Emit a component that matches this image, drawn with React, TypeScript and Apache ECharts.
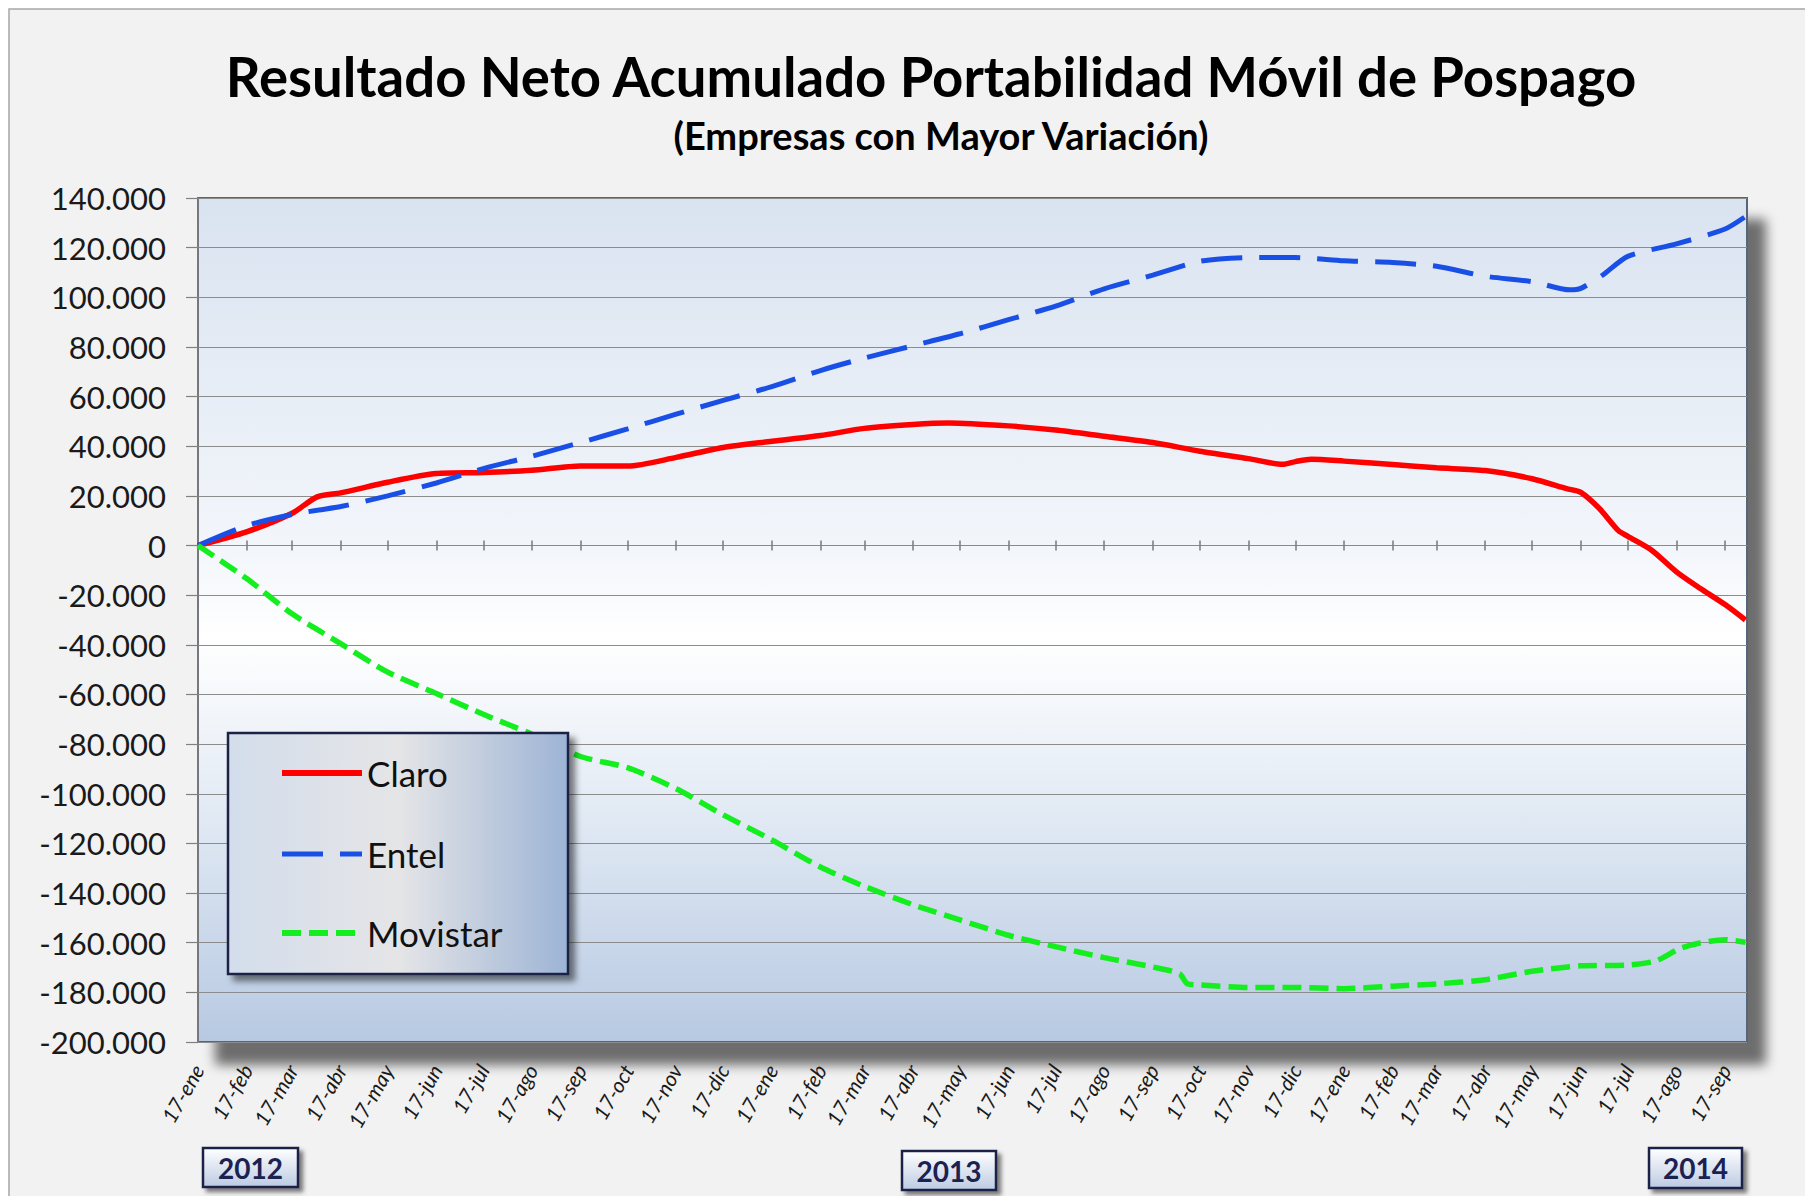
import React, { useEffect, useRef } from 'react';
import * as echarts from 'echarts';

const MESES = ['ene', 'feb', 'mar', 'abr', 'may', 'jun', 'jul', 'ago', 'sep', 'oct', 'nov', 'dic'];
const TICK_YEARS_MONTHS: [number, number][] = [];
for (let y = 2012; y <= 2014; y++) {
  for (let m = 0; m < 12; m++) {
    if (y === 2014 && m > 8) break;
    TICK_YEARS_MONTHS.push([y, m]);
  }
}
const YEAR_LABELS = ['2012', '2013', '2014'];
const X_MIN = '2012-01-17';
const X_MAX = '2014-10-01';

const claro: [string, number][] = [
  ['2012-01-17', 0], ['2012-02-17', 5500], ['2012-03-17', 13000], ['2012-04-02', 19600],
  ['2012-04-17', 21200], ['2012-05-17', 25500], ['2012-06-17', 29000], ['2012-07-17', 29400],
  ['2012-08-17', 30300], ['2012-09-17', 32000], ['2012-10-17', 32000], ['2012-11-17', 35500],
  ['2012-12-17', 39500], ['2013-01-17', 42000], ['2013-02-17', 44300], ['2013-03-17', 47200],
  ['2013-04-17', 48800], ['2013-05-10', 49400], ['2013-06-17', 48200], ['2013-07-17', 46500],
  ['2013-08-17', 44000], ['2013-09-17', 41500], ['2013-10-17', 38000], ['2013-11-17', 35000],
  ['2013-12-09', 32700], ['2013-12-17', 33800], ['2013-12-27', 34800], ['2014-01-17', 34000],
  ['2014-02-17', 32600], ['2014-03-17', 31300], ['2014-04-17', 30200], ['2014-05-17', 26900],
  ['2014-06-08', 22900], ['2014-06-17', 21400], ['2014-06-29', 14800], ['2014-07-11', 6000],
  ['2014-07-17', 3700], ['2014-08-01', -1800], ['2014-08-17', -10600], ['2014-09-01', -17200],
  ['2014-09-17', -23800], ['2014-09-30', -30000],
];

const entel: [string, number][] = [
  ['2012-01-17', 0], ['2012-02-17', 8000], ['2012-03-17', 12500], ['2012-04-03', 14300],
  ['2012-04-17', 15700], ['2012-05-17', 20000], ['2012-06-17', 25200], ['2012-07-17', 31000],
  ['2012-08-17', 36000], ['2012-09-17', 41500], ['2012-10-17', 47000], ['2012-11-17', 52900],
  ['2012-12-17', 58500], ['2013-01-17', 64000], ['2013-02-17', 70500], ['2013-03-17', 75500],
  ['2013-04-17', 80500], ['2013-05-17', 85300], ['2013-06-17', 91000], ['2013-07-17', 96400],
  ['2013-08-17', 103400], ['2013-09-17', 108900], ['2013-10-17', 114500], ['2013-11-17', 116000],
  ['2013-12-17', 116000], ['2014-01-17', 114700], ['2014-02-17', 114000], ['2014-03-17', 112500],
  ['2014-04-17', 108500], ['2014-05-17', 106300], ['2014-06-10', 103000], ['2014-06-17', 103600],
  ['2014-07-01', 109000], ['2014-07-17', 116500], ['2014-08-17', 121500], ['2014-09-17', 127500],
  ['2014-09-30', 132500],
];

const movistar: [string, number][] = [
  ['2012-01-17', 0], ['2012-02-17', -13300], ['2012-03-17', -27500], ['2012-04-17', -39500],
  ['2012-05-17', -51000], ['2012-06-17', -59600], ['2012-07-17', -68000], ['2012-08-17', -76000],
  ['2012-09-17', -85000], ['2012-10-17', -89500], ['2012-11-17', -98000], ['2012-12-17', -108500],
  ['2013-01-17', -118600], ['2013-02-17', -129500], ['2013-03-17', -137300], ['2013-04-17', -144700],
  ['2013-05-17', -150800], ['2013-06-17', -157000], ['2013-07-17', -161600], ['2013-08-17', -166000],
  ['2013-09-17', -169800], ['2013-10-04', -172500], ['2013-10-09', -176500], ['2013-10-17', -177000],
  ['2013-11-17', -178000], ['2013-12-17', -178000], ['2014-01-17', -178500], ['2014-02-17', -177500],
  ['2014-03-17', -176600], ['2014-04-17', -174900], ['2014-05-17', -171500], ['2014-06-17', -169300],
  ['2014-07-17', -169000], ['2014-08-04', -167300], ['2014-08-19', -162400], ['2014-09-01', -160100],
  ['2014-09-17', -158800], ['2014-09-30', -159800],
];

function ts(s: string): number {
  const [y, m, d] = s.split('-').map(Number);
  return Date.UTC(y, m - 1, d);
}

function fmtThousands(v: number): string {
  if (v === 0) return '0';
  const s = Math.abs(v).toString().replace(/\B(?=(\d{3})+(?!\d))/g, '.');
  return (v < 0 ? '-' : '') + s;
}

export default function App() {
  const ref = useRef<HTMLDivElement>(null);

  useEffect(() => {
    if (!ref.current) return;
    const chart = echarts.init(ref.current, null, { renderer: 'svg' });
    const tickTs = TICK_YEARS_MONTHS.map(([y, m]) => Date.UTC(y, m, 17));
    const xMin = ts(X_MIN);
    const xMax = ts(X_MAX);
    const FONT = 'Lato';

    const plotBg = new echarts.graphic.LinearGradient(0, 0, 0, 1, [
      { offset: 0, color: '#d9e3f0' },
      { offset: 0.42, color: '#f3f6fb' },
      { offset: 0.52, color: '#ffffff' },
      { offset: 0.7, color: '#e6edf6' },
      { offset: 1, color: '#b7c9e2' },
    ]);
    const legendBg = new echarts.graphic.LinearGradient(0, 0, 1, 0, [
      { offset: 0, color: '#d3ddeb' },
      { offset: 0.5, color: '#e5e5e7' },
      { offset: 1, color: '#9db4d5' },
    ]);
    const yearBg = () =>
      new echarts.graphic.LinearGradient(0, 0, 0, 1, [
        { offset: 0, color: '#ffffff' },
        { offset: 1, color: '#bccbe2' },
      ]);

    const yearBoxes = [
      { x: 203, y: 1148, w: 95, h: 39 },
      { x: 902, y: 1151, w: 94, h: 39 },
      { x: 1649, y: 1148, w: 93, h: 40 },
    ];

    const legendItems = [
      { name: 'Claro', y: 773, color: '#ff0000', dash: null as any, width: 6 },
      { name: 'Entel', y: 854, color: '#1a4fe6', dash: [41, 17], width: 5 },
      { name: 'Movistar', y: 933, color: '#14ee1e', dash: [19, 8], width: 6 },
    ];

    const graphic: any[] = [
      {
        type: 'rect', z: -100, silent: true,
        shape: { x: 9, y: 9, width: 1805, height: 1196 },
        style: { fill: '#f2f2f2', stroke: '#a6a6a6', lineWidth: 1.5 },
      },
      {
        type: 'text', x: 931, y: 76, z: 10,
        style: {
          text: 'Resultado Neto Acumulado Portabilidad Móvil de Pospago',
          fontFamily: FONT, fontWeight: 'bold', fontSize: 54.5, fill: '#000000',
          align: 'center', verticalAlign: 'middle',
        },
      },
      {
        type: 'text', x: 941, y: 135, z: 10,
        style: {
          text: '(Empresas con Mayor Variación)',
          fontFamily: FONT, fontWeight: 'bold', fontSize: 38, fill: '#000000',
          align: 'center', verticalAlign: 'middle',
        },
      },
      {
        type: 'rect', z: 100,
        shape: { x: 228, y: 733, width: 340, height: 241 },
        style: {
          fill: legendBg, stroke: '#1f2444', lineWidth: 2.5,
          shadowBlur: 6, shadowColor: 'rgba(0,0,0,0.5)', shadowOffsetX: 6, shadowOffsetY: 6,
        },
      },
    ];

    legendItems.forEach((it) => {
      graphic.push({
        type: 'line', z: 101,
        shape: { x1: 282, y1: it.y, x2: 362, y2: it.y },
        style: { stroke: it.color, lineWidth: it.width, lineDash: it.dash || undefined },
      });
      graphic.push({
        type: 'text', z: 101, x: 367, y: it.y,
        style: {
          text: it.name, fontFamily: FONT, fontSize: 35, fill: '#111111',
          align: 'left', verticalAlign: 'middle',
        },
      });
    });

    yearBoxes.forEach((b, i) => {
      graphic.push({
        type: 'rect', z: 50,
        shape: { x: b.x, y: b.y, width: b.w, height: b.h },
        style: {
          fill: yearBg(), stroke: '#1c2147', lineWidth: 2.5,
          shadowBlur: 4, shadowColor: 'rgba(0,0,0,0.5)', shadowOffsetX: 4, shadowOffsetY: 4,
        },
      });
      graphic.push({
        type: 'text', z: 51, x: b.x + b.w / 2, y: b.y + b.h / 2,
        style: {
          text: YEAR_LABELS[i], fontFamily: FONT, fontWeight: 'bold', fontSize: 28,
          fill: '#1b2150', align: 'center', verticalAlign: 'middle',
        },
      });
    });

    const zeroAxis = (inside: boolean) => ({
      type: 'value',
      min: xMin,
      max: xMax,
      axisLine: { show: true, onZero: true, onZeroAxisIndex: 0, lineStyle: { color: '#8a8a8a', width: 1.2 } },
      axisTick: { show: true, customValues: tickTs, length: 5, inside, lineStyle: { color: '#7a7a7a', width: 1.5 } },
      axisLabel: { show: false },
      splitLine: { show: false },
    });

    const option: any = {
      animation: false,
      backgroundColor: '#ffffff',
      textStyle: { fontFamily: FONT },
      grid: {
        left: 198, top: 198, width: 1549, height: 844,
        show: true,
        backgroundColor: plotBg,
        borderColor: '#56667a',
        borderWidth: 2,
        shadowColor: 'rgba(0,0,0,0.55)',
        shadowBlur: 12,
        shadowOffsetX: 18,
        shadowOffsetY: 22,
        containLabel: false,
        outerBoundsMode: 'none',
      },
      xAxis: [
        {
          type: 'value',
          min: xMin,
          max: xMax,
          position: 'bottom',
          axisLine: { show: false, onZero: false },
          axisTick: { show: false },
          splitLine: { show: false },
          axisLabel: {
            customValues: tickTs,
            formatter: (v: number) => '17-' + MESES[new Date(v).getUTCMonth()],
            rotate: 60,
            fontSize: 21,
            fontStyle: 'italic',
            fontFamily: FONT,
            color: '#1a1a1a',
            margin: 24,
          },
        },
        zeroAxis(false),
        zeroAxis(true),
      ],
      yAxis: {
        type: 'value',
        min: -200000,
        max: 140000,
        interval: 20000,
        axisLine: { show: true, lineStyle: { color: '#808080', width: 1.5 } },
        axisTick: { show: true, length: 12, lineStyle: { color: '#808080', width: 1.2 } },
        axisLabel: {
          formatter: (v: number) => fmtThousands(v),
          fontSize: 31,
          fontFamily: FONT,
          color: '#1a1a1a',
          margin: 32,
        },
        splitLine: { show: true, lineStyle: { color: '#8c8c8c', width: 1.2 } },
      },
      series: [
        {
          name: 'Claro', type: 'line', xAxisIndex: 0,
          data: claro.map(([d, v]) => [ts(d), v]),
          showSymbol: false, symbol: 'none', smooth: 0.25,
          lineStyle: { color: '#ff0000', width: 5.5 },
          z: 3,
        },
        {
          name: 'Entel', type: 'line', xAxisIndex: 0,
          data: entel.map(([d, v]) => [ts(d), v]),
          showSymbol: false, symbol: 'none', smooth: 0.25,
          lineStyle: { color: '#1a4fe6', width: 5, type: [41, 17] },
          z: 4,
        },
        {
          name: 'Movistar', type: 'line', xAxisIndex: 0,
          data: movistar.map(([d, v]) => [ts(d), v]),
          showSymbol: false, symbol: 'none', smooth: 0.25,
          lineStyle: { color: '#14ee1e', width: 5.5, type: [19, 8] },
          z: 5,
        },
      ],
      graphic,
    };

    chart.setOption(option);
    return () => chart.dispose();
  }, []);

  return (
    <div
      ref={ref}
      style={{ position: 'absolute', left: 0, top: 0, width: 1805, height: 1196 }}
    />
  );
}
